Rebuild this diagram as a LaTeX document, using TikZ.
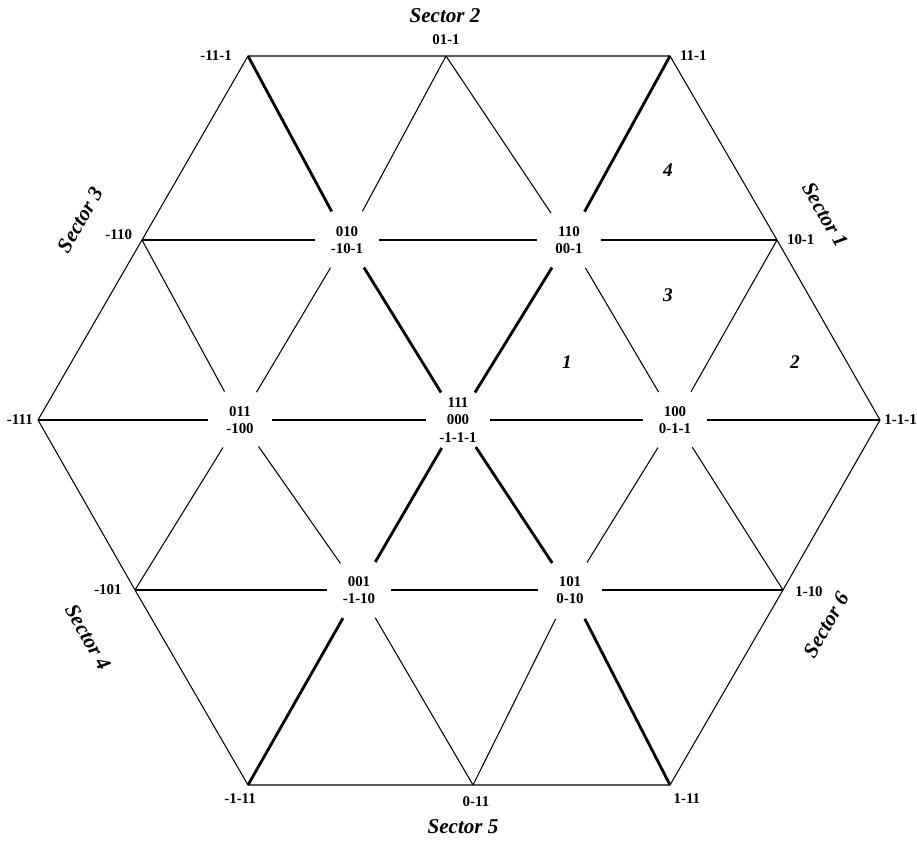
\documentclass[tikz,border=0pt]{standalone}
\usepackage{fontspec}
\setmainfont{Liberation Serif}
\usepackage{tikz}
\usetikzlibrary{positioning}
\newcommand{\vfont}{\fontsize{8.5}{10}\selectfont\bfseries}
\newcommand{\sectfont}{\fontsize{12}{14}\selectfont\bfseries\itshape}
\newcommand{\regfont}{\fontsize{11}{13}\selectfont\bfseries\itshape}
\tikzstyle{vnode}=[circle,fill=white,minimum size=1.28cm,inner sep=0pt,align=center,font=\vfont]
\tikzstyle{vlabel}=[inner sep=1pt,font=\vfont]
\tikzstyle{sectlabel}=[inner sep=1pt,font=\sectfont]
\tikzstyle{reglabel}=[inner sep=1pt,font=\regfont]
\tikzstyle{thinline}=[line width=0.6pt]
\tikzstyle{thickline}=[line width=1.6pt]

\begin{document}
\begin{tikzpicture}
  \useasboundingbox (0,0) rectangle (18.34,16.8);
  % outer corners and mid-edge points
  \coordinate (o0) at (17.60,8.40);
  \coordinate (o1) at (13.40,15.68);
  \coordinate (o2) at (4.96,15.68);
  \coordinate (o3) at (0.76,8.40);
  \coordinate (o4) at (4.96,1.10);
  \coordinate (o5) at (13.40,1.10);
  \coordinate (m0) at (15.54,12.00);
  \coordinate (m1) at (8.92,15.68);
  \coordinate (m2) at (2.84,12.00);
  \coordinate (m3) at (2.70,5.00);
  \coordinate (m4) at (9.46,1.10);
  \coordinate (m5) at (15.66,5.00);
  % inner vectors
  \node[vnode] (c) at (9.16,8.40) {111\\000\\-1-1-1};
  \node[vnode] (i0) at (13.50,8.40) {100\\0-1-1};
  \node[vnode] (i1) at (11.38,12.00) {110\\00-1};
  \node[vnode] (i2) at (6.94,12.00) {010\\-10-1};
  \node[vnode] (i3) at (4.80,8.40) {011\\-100};
  \node[vnode] (i4) at (7.18,5.00) {001\\-1-10};
  \node[vnode] (i5) at (11.40,5.00) {101\\0-10};
  % outer labels
  \node[vlabel,right=1.3pt of o0] (lo0) {1-1-1};
  \node[vlabel,right=4.5pt of o1] (lo1) {11-1};
  \node[vlabel,left=8pt of o2] (lo2) {-11-1};
  \node[vlabel,left=1.8pt of o3] (lo3) {-111};
  \node[vlabel,below=3.5pt of o4,xshift=-4.5pt] (lo4) {-1-11};
  \node[vlabel,below=3.5pt of o5,xshift=9.6pt] (lo5) {1-11};
  \node[vlabel,right=4.5pt of m0] (lm0) {10-1};
  \node[vlabel,above=5pt of m1] (lm1) {01-1};
  \node[vlabel,left=4.5pt of m2,yshift=3pt] (lm2) {-110};
  \node[vlabel,left=6.4pt of m3] (lm3) {-101};
  \node[vlabel,below=5.5pt of m4,xshift=1.7pt] (lm4) {0-11};
  \node[vlabel,right=5.8pt of m5,yshift=-1pt] (lm5) {1-10};
  % sectors and regions
  \node[sectlabel] (s1) at (16.50,12.50) [rotate=-60] {Sector 1};
  \node[sectlabel] (s2) at (8.90,16.48) {Sector 2};
  \node[sectlabel] (s3) at (1.60,12.40) [rotate=60] {Sector 3};
  \node[sectlabel] (s4) at (1.76,4.06) [rotate=-60] {Sector 4};
  \node[sectlabel] (s5) at (9.26,0.26) {Sector 5};
  \node[sectlabel] (s6) at (16.52,4.30) [rotate=60] {Sector 6};
  \node[reglabel] (r1) at (11.34,9.56) {1};
  \node[reglabel] (r2) at (15.90,9.56) {2};
  \node[reglabel] (r3) at (13.36,10.90) {3};
  \node[reglabel] (r4) at (13.36,13.40) {4};
  % hexagon and grid
  \draw[thinline] (o0) -- (m0) -- (o1) -- (m1) -- (o2) -- (m2) -- (o3)
    -- (m3) -- (o4) -- (m4) -- (o5) -- (m5) -- cycle;
  \draw[thinline] (m2) -- (i2) -- (i1) -- (m0);
  \draw[thinline] (m3) -- (i4) -- (i5) -- (m5);
  \draw[thinline] (m4) -- (i5) -- (i0) -- (m0);
  \draw[thinline] (m3) -- (i3) -- (i2) -- (m1);
  \draw[thinline] (m1) -- (i1) -- (i0) -- (m5);
  \draw[thinline] (m2) -- (i3) -- (i4) -- (m4);
  % main diagonals
  \draw[thickline] (o3) -- (i3) -- (c) -- (i0) -- (o0);
  \draw[thickline] (o2) -- (i2) -- (c) -- (i5) -- (o5);
  \draw[thickline] (o1) -- (i1) -- (c) -- (i4) -- (o4);
\end{tikzpicture}
\end{document}
